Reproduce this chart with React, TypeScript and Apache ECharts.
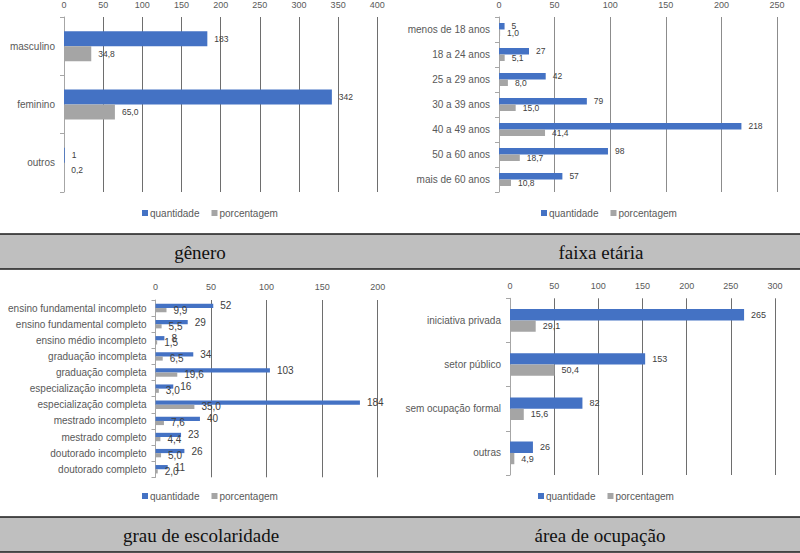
import React, { useEffect, useRef } from "react";
import * as echarts from "echarts";

const seriesNames = ["quantidade", "porcentagem"];

const generoCats = ["masculino", "feminino", "outros"];
const generoQtd = [183, 342, 1];
const generoPct = [34.8, 65.0, 0.2];

const faixaCats = ["menos de 18 anos", "18 a 24 anos", "25 a 29 anos", "30 a 39 anos", "40 a 49 anos", "50 a 60 anos", "mais de 60 anos"];
const faixaQtd = [5, 27, 42, 79, 218, 98, 57];
const faixaPct = [1.0, 5.1, 8.0, 15.0, 41.4, 18.7, 10.8];

const escolCats = [
  "ensino fundamental incompleto",
  "ensino fundamental completo",
  "ensino médio incompleto",
  "graduação incompleta",
  "graduação completa",
  "especialização incompleta",
  "especialização completa",
  "mestrado incompleto",
  "mestrado completo",
  "doutorado incompleto",
  "doutorado completo",
];
const escolQtd = [52, 29, 8, 34, 103, 16, 184, 40, 23, 26, 11];
const escolPct = [9.9, 5.5, 1.5, 6.5, 19.6, 3.0, 35.0, 7.6, 4.4, 5.0, 2.0];

const ocupCats = ["iniciativa privada", "setor público", "sem ocupação formal", "outras"];
const ocupQtd = [265, 153, 82, 26];
const ocupPct = [29.1, 50.4, 15.6, 4.9];

const panelTitles = ["gênero", "faixa etária", "grau de escolaridade", "área de ocupação"];
const axisMax = [400, 250, 200, 300];

const BLUE = "#4472c4";
const GRAY = "#a5a5a5";
const FONT = "Liberation Sans";

export default function App() {
  const ref = useRef<HTMLDivElement>(null);
  useEffect(() => {
    if (!ref.current) return;
    const chart = echarts.init(ref.current, null, { renderer: "svg" });

    const panels = [
      { cats: generoCats, qtd: generoQtd, pct: generoPct, grid: { left: 64, top: 15.7, width: 313.3, height: 176.3 }, bw: 15, valFont: 8.5, gridColor: "#6e6e6e", legend: { left: 137, top: 203 }, xMargin: 8 },
      { cats: faixaCats, qtd: faixaQtd, pct: faixaPct, grid: { left: 499, top: 15.7, width: 278, height: 176.3 }, bw: 6.5, valFont: 8.5, gridColor: "#8c8c8c", legend: { left: 536, top: 203 }, xMargin: 8 },
      { cats: escolCats, qtd: escolQtd, pct: escolPct, grid: { left: 155.5, top: 300, width: 222.2, height: 177.3 }, bw: 4.2, valFont: 10, gridColor: "#6e6e6e", legend: { left: 137, top: 486 }, xMargin: 9 },
      { cats: ocupCats, qtd: ocupQtd, pct: ocupPct, grid: { left: 510, top: 298.3, width: 265, height: 176.7 }, bw: 11.3, valFont: 9, gridColor: "#6e6e6e", legend: { left: 533, top: 486 }, xMargin: 8 },
    ];

    const grids: any[] = [];
    const xAxes: any[] = [];
    const yAxes: any[] = [];
    const series: any[] = [];
    const legends: any[] = [];

    panels.forEach((p, i) => {
      grids.push({ ...p.grid, containLabel: false });
      xAxes.push({
        type: "value",
        gridIndex: i,
        position: "top",
        min: 0,
        max: axisMax[i],
        interval: 50,
        axisLine: { show: false },
        axisTick: { show: false },
        axisLabel: { fontSize: 9, color: "#595959", margin: p.xMargin, fontFamily: FONT },
        splitLine: { show: true, lineStyle: { color: p.gridColor, width: 1 } },
      });
      yAxes.push({
        type: "category",
        gridIndex: i,
        inverse: true,
        data: p.cats,
        axisLine: { show: true, lineStyle: { color: "#a6a6a6", width: 1 } },
        axisTick: { show: true, inside: false, length: 4, lineStyle: { color: "#a6a6a6" } },
        axisLabel: { fontSize: 10, color: "#595959", margin: 9, fontFamily: FONT },
        splitLine: { show: false },
      });
      const lbl = (fmt: (v: number) => string) => ({
        show: true,
        position: "right",
        distance: 7,
        fontSize: p.valFont,
        color: "#404040",
        fontFamily: FONT,
        formatter: (d: any) => fmt(d.value),
      });
      series.push({
        name: seriesNames[0],
        type: "bar",
        xAxisIndex: i,
        yAxisIndex: i,
        data: p.qtd,
        barWidth: p.bw,
        barGap: "0%",
        itemStyle: { color: BLUE },
        label: lbl((v) => String(v)),
      });
      series.push({
        name: seriesNames[1],
        type: "bar",
        xAxisIndex: i,
        yAxisIndex: i,
        data: p.pct,
        barWidth: p.bw,
        barGap: "0%",
        itemStyle: { color: GRAY },
        label: lbl((v) => v.toFixed(1).replace(".", ",")),
      });
      legends.push({
        data: seriesNames,
        left: p.legend.left,
        top: p.legend.top,
        itemWidth: 6,
        itemHeight: 6,
        itemGap: 12,
        icon: "rect",
        textStyle: { fontSize: 10, color: "#595959", fontFamily: FONT, padding: [0, 0, 0, -3] },
        selectedMode: false,
      });
    });

    const band = (y: number, h: number) => [
      { type: "rect", shape: { x: 0, y, width: 800, height: h }, style: { fill: "#bfbfbf" }, silent: true },
      { type: "line", shape: { x1: 0, y1: y, x2: 800, y2: y }, style: { stroke: "#1a1a1a", lineWidth: 1.5 }, silent: true },
      { type: "line", shape: { x1: 0, y1: y + h, x2: 800, y2: y + h }, style: { stroke: "#1a1a1a", lineWidth: 1.5 }, silent: true },
    ];
    const title = (text: string, x: number, y: number) => ({
      type: "text",
      x,
      y,
      silent: true,
      style: { text, fill: "#111", font: "19px 'Liberation Serif'", textAlign: "center", textVerticalAlign: "middle" },
    });

    chart.setOption({
      animation: false,
      backgroundColor: "#ffffff",
      grid: grids,
      xAxis: xAxes,
      yAxis: yAxes,
      series,
      legend: legends,
      graphic: [
        ...band(234, 35),
        ...band(517, 35),
        title(panelTitles[0], 200, 252),
        title(panelTitles[1], 601, 252),
        title(panelTitles[2], 201, 535),
        title(panelTitles[3], 600, 535),
      ],
    });
    return () => chart.dispose();
  }, []);
  return <div ref={ref} style={{ position: "fixed", left: 0, top: 0, width: 800, height: 553 }} />;
}
